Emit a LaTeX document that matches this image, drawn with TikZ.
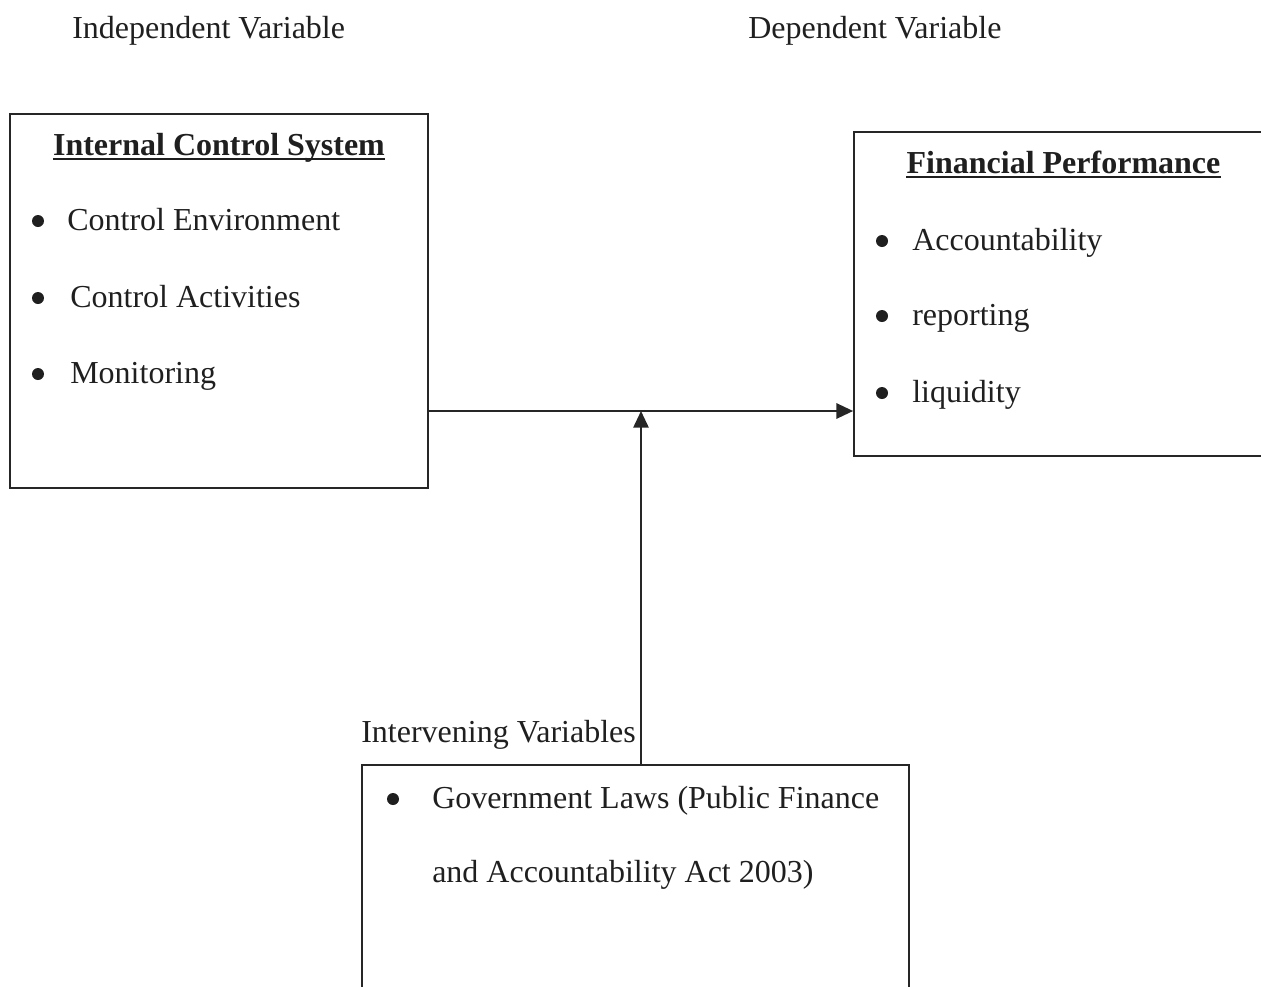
\documentclass[tikz,border=0pt]{standalone}
\usepackage{fontspec}
\setmainfont{Liberation Serif}
\usetikzlibrary{arrows.meta}
\begin{document}
\begin{tikzpicture}[x=0.75pt,y=-0.75pt,
  box/.style={draw=black!85, line width=1.3pt, inner sep=0pt},
  txt/.style={anchor=base west, inner sep=0pt, font=\fontsize{24}{28}\selectfont, text=black!88},
  head/.style={anchor=base, inner sep=0pt, font=\fontsize{24}{28}\selectfont\bfseries, text=black!88},
  bul/.style={circle, fill=black!88, inner sep=0pt, minimum size=9pt},
  uline/.style={draw=black!88, line width=1.4pt},
  arr/.style={draw=black!85, line width=1.3pt, -{Triangle[length=12.5pt,width=11.5pt]}}
]
\useasboundingbox (0,0) rectangle (1261,986);
% boxes
\node[box, minimum width=313.5pt, minimum height=280.5pt] (ics) at (219,301) {};
\node[box, minimum width=312pt, minimum height=243pt] (fp) at (1062,294) {};
\node[box, minimum width=410.25pt, minimum height=176.25pt] (gov) at (635.5,882.5) {};
% top labels
\node[txt] (lind) at (72,38) {Independent Variable};
\node[txt] (ldep) at (748,38) {Dependent Variable};
\node[txt] (lint) at (361,742) {Intervening Variables};
% left box
\node[head] (h1) at (219,155) {Internal Control System};
\draw[uline] ([yshift=-3.2pt]h1.base west) -- ([yshift=-3.2pt]h1.base east);
\node[bul] (b1) at (38,221) {};
\node[txt] (t1) at (67,230) {Control Environment};
\node[bul] (b2) at (38,298) {};
\node[txt] (t2) at (70,307) {Control Activities};
\node[bul] (b3) at (38,374) {};
\node[txt] (t3) at (70,383) {Monitoring};
% right box
\node[head] (h2) at (1063.5,173) {Financial Performance};
\draw[uline] ([yshift=-3.2pt]h2.base west) -- ([yshift=-3.2pt]h2.base east);
\node[bul] (b4) at (882,241) {};
\node[txt] (t4) at (912,250) {Accountability};
\node[bul] (b5) at (882,316) {};
\node[txt] (t5) at (912,325) {reporting};
\node[bul] (b6) at (882,393) {};
\node[txt] (t6) at (912,402) {liquidity};
% bottom box
\node[bul] (b7) at (393,799) {};
\node[txt] (t7) at (432,808) {Government Laws (Public Finance};
\node[txt] (t8) at (432,882) {and Accountability Act 2003)};
% connectors
\coordinate (j) at (641,411);
\draw[arr] (ics.east |- j) -- (fp.west |- j);
\draw[arr] (j |- gov.north) -- (j);
\end{tikzpicture}
\end{document}
